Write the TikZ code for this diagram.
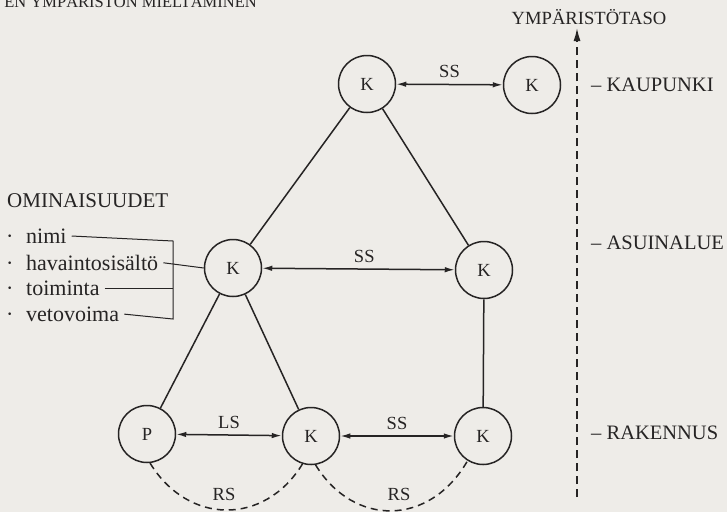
\documentclass[tikz,border=0pt]{standalone}
\usepackage{fontspec}
\setmainfont{Liberation Serif}
\usetikzlibrary{arrows.meta}
\definecolor{paper}{RGB}{238,236,232}
\definecolor{ink}{RGB}{38,36,36}
\begin{document}
\begin{tikzpicture}[x=1pt,y=-1pt,
  every node/.style={text=ink},
  circ/.style={circle, draw=ink, line width=1.5pt, minimum size=57pt, inner sep=0pt, font=\fontsize{18.5}{18.5}\selectfont},
  conn/.style={draw=ink, line width=1.5pt},
  biarrow/.style={conn, {Latex[length=10pt,width=5.5pt]}-{Latex[length=10pt,width=5.5pt]}},
  rel/.style={font=\fontsize{18.5}{18.5}\selectfont, inner sep=0pt, anchor=base},
  dasharc/.style={conn, dash pattern=on 7pt off 5pt},
  level/.style={font=\fontsize{20.5}{21}\selectfont, anchor=mid west, inner sep=0pt},
  item/.style={font=\fontsize{22}{22}\selectfont, anchor=mid west, inner sep=0pt},
  bracketline/.style={draw=ink, line width=1pt}
]
\fill[paper] (0,0) rectangle (727,512);
\useasboundingbox (0,0) rectangle (727,512);
\begin{scope}
\clip (0,0) rectangle (727,512);
\node[anchor=base east, inner sep=0pt, font=\fontsize{16.5}{16.5}\selectfont] (header) at (257,7) {EN YMPÄRISTÖN MIELTÄMINEN};
\end{scope}

% nodes
\node[circ] (ktop) at (367,84) {K};
\node[circ] (ktr) at (532,85) {K};
\node[circ] (kml) at (233,268) {K};
\node[circ] (kmr) at (484,270) {K};
\node[circ] (p) at (147,434) {P};
\node[circ] (kbm) at (311,436) {K};
\node[circ] (kbr) at (483,436) {K};

% hierarchy lines
\draw[conn] (ktop) -- (kml);
\draw[conn] (ktop) -- (kmr);
\draw[conn] (kml) -- (p);
\draw[conn] (kml) -- (kbm);
\draw[conn] (kmr) -- (kbr);

% relations
\draw[biarrow] (ktop) -- (ktr) node[rel, midway, yshift=7pt] (ss1) {SS};
\draw[biarrow] (kml) -- (kmr) node[rel, pos=0.53, yshift=7pt] (ss2) {SS};
\draw[biarrow] (p) -- (kbm) node[rel, midway, yshift=7pt] (ls) {LS};
\draw[biarrow] (kbm) -- (kbr) node[rel, midway, yshift=7pt] (ss3) {SS};

% RS arcs
\draw[dasharc] (p.-84) .. controls +(38,62) and +(-38,62) .. (kbm.-107);
\draw[dasharc] (kbm.-81) .. controls +(38,62) and +(-38,66) .. (kbr.-122);
\node[rel] (rs1) at (224,500) {RS};
\node[rel] (rs2) at (399,500) {RS};

% properties
\node[anchor=base west, inner sep=0pt, font=\fontsize{21}{21}\selectfont] (omin) at (7,207) {OMINAISUUDET};
\node[item] (nimi) at (6,241) {\makebox[20pt][l]{·}nimi};
\node[item] (hav) at (6,268) {\makebox[20pt][l]{·}havaintosisältö};
\node[item] (toim) at (6,293) {\makebox[20pt][l]{·}toiminta};
\node[item] (veto) at (6,319) {\makebox[20pt][l]{·}vetovoima};
\coordinate (bt) at (173,241);
\coordinate (bb) at (173,319);
\draw[bracketline] ([xshift=5pt]nimi.east) -- (bt) -- (bb) -- ([xshift=5pt]veto.east);
\draw[bracketline] ([xshift=5pt]toim.east) -- (toim.east -| bt);
\draw[bracketline] ([xshift=5pt]hav.east) -- (kml.west);

% level axis
\coordinate (axb) at (577,497);
\coordinate (axt) at (577,28);
\draw[conn, dash pattern=on 8pt off 5pt, -{Latex[length=13pt,width=7pt]}] (axb) -- (axt);
\node[anchor=base, inner sep=0pt, font=\fontsize{18.6}{18.6}\selectfont] (taso) at (589,24) {YMPÄRISTÖTASO};
\node[level] (kaup) at (591,89) {– KAUPUNKI};
\node[level] (asui) at (591,247) {– ASUINALUE};
\node[level] (rak) at (591,437) {– RAKENNUS};
\end{tikzpicture}
\end{document}
